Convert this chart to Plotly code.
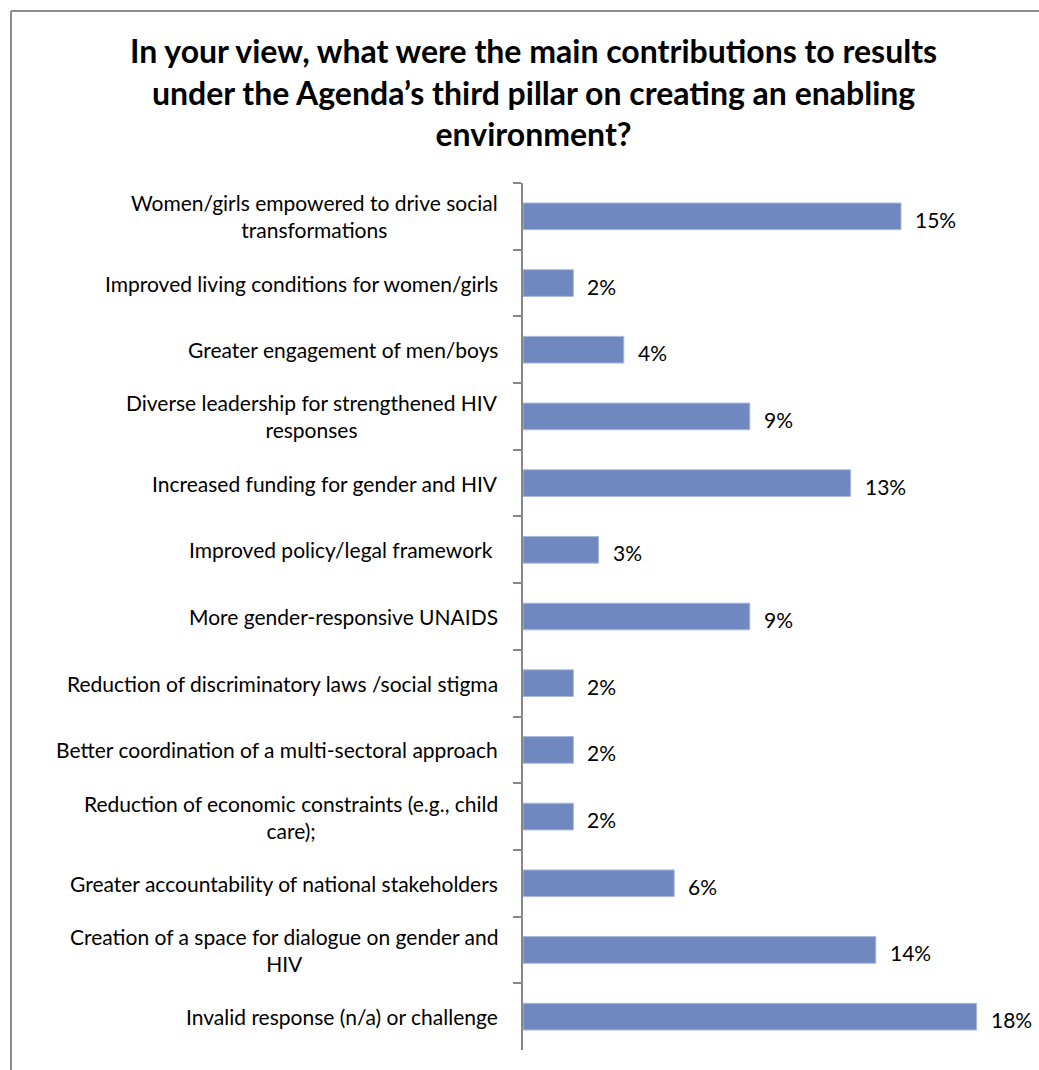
import plotly.graph_objects as go

# Survey answers, top to bottom
categories = [
    "Women/girls empowered to drive social<br>transformations",
    "Improved living conditions for women/girls",
    "Greater engagement of men/boys",
    "Diverse leadership for strengthened HIV<br>responses",
    "Increased funding for gender and HIV",
    "Improved policy/legal framework ",
    "More gender-responsive UNAIDS",
    "Reduction of discriminatory laws /social stigma",
    "Better coordination of a multi-sectoral approach",
    "Reduction of economic constraints (e.g., child<br>care);",
    "Greater accountability of national stakeholders",
    "Creation of a space for dialogue on gender and<br>HIV",
    "Invalid response (n/a) or challenge",
]
# Share of responses (%)
shares = [15, 2, 4, 9, 13, 3, 9, 2, 2, 2, 6, 14, 18]

title_text = ("In your view, what were the main contributions to results<br>"
              "under the Agenda’s third pillar on creating an enabling<br>"
              "environment?")

W, H = 1039, 1070
L, R, T, B = 523, 12, 183, 20
pw, ph = W - L - R, H - T - B


def px_x(px):
    """Page pixel column -> paper x."""
    return (px - L) / pw


def px_y(py):
    """Page pixel row -> paper y."""
    return (H - B - py) / ph


FONT = "Lato, 'Open Sans', sans-serif"
BAR = "#7088C0"
GRID = "#878787"

fig = go.Figure()
fig.add_trace(go.Bar(
    y=categories,
    x=shares,
    orientation="h",
    marker=dict(color=BAR, line=dict(color="#A9B8DD", width=1)),
    width=0.4,
    hoverinfo="skip",
))

# value labels just past the bar ends
for cat, v in zip(categories, shares):
    fig.add_annotation(
        x=v, y=cat, xref="x", yref="y",
        text=f"{v:.0f}%", showarrow=False,
        xanchor="left", xshift=12, yshift=-3,
        font=dict(family=FONT, size=21, color="#000000"),
    )

# category labels, centred block right-aligned to the axis
for cat in categories:
    fig.add_annotation(
        x=px_x(500), y=cat, xref="paper", yref="y",
        text=cat, showarrow=False, align="center",
        xanchor="right", yanchor="middle",
        font=dict(family=FONT, size=21, color="#000000"),
    )

# chart title
fig.add_annotation(
    x=px_x(533), y=px_y(92), xref="paper", yref="paper",
    text=title_text, showarrow=False, align="center",
    xanchor="center", yanchor="middle",
    font=dict(family=FONT, size=32, color="#000000", weight="bold"),
)

# chart frame (top and left edges)
fig.add_shape(type="line", xref="paper", yref="paper",
              x0=px_x(11), x1=px_x(W + 5), y0=px_y(11), y1=px_y(11),
              line=dict(color="#8C8C8C", width=2))
fig.add_shape(type="line", xref="paper", yref="paper",
              x0=px_x(11), x1=px_x(11), y0=px_y(11), y1=px_y(H + 10),
              line=dict(color="#8C8C8C", width=2))

fig.update_layout(
    width=W, height=H,
    margin=dict(l=L, r=R, t=T, b=B),
    paper_bgcolor="white", plot_bgcolor="white",
    showlegend=False,
    bargap=0.6,
    xaxis=dict(range=[0, 20], visible=False, fixedrange=True),
    yaxis=dict(
        autorange="reversed",
        showticklabels=False,
        showline=True, linecolor=GRID, linewidth=2,
        ticks="outside", tickson="boundaries", ticklen=8,
        tickcolor=GRID, tickwidth=1.5,
        showgrid=False, zeroline=False,
    ),
)

fig.write_html("out.html")
